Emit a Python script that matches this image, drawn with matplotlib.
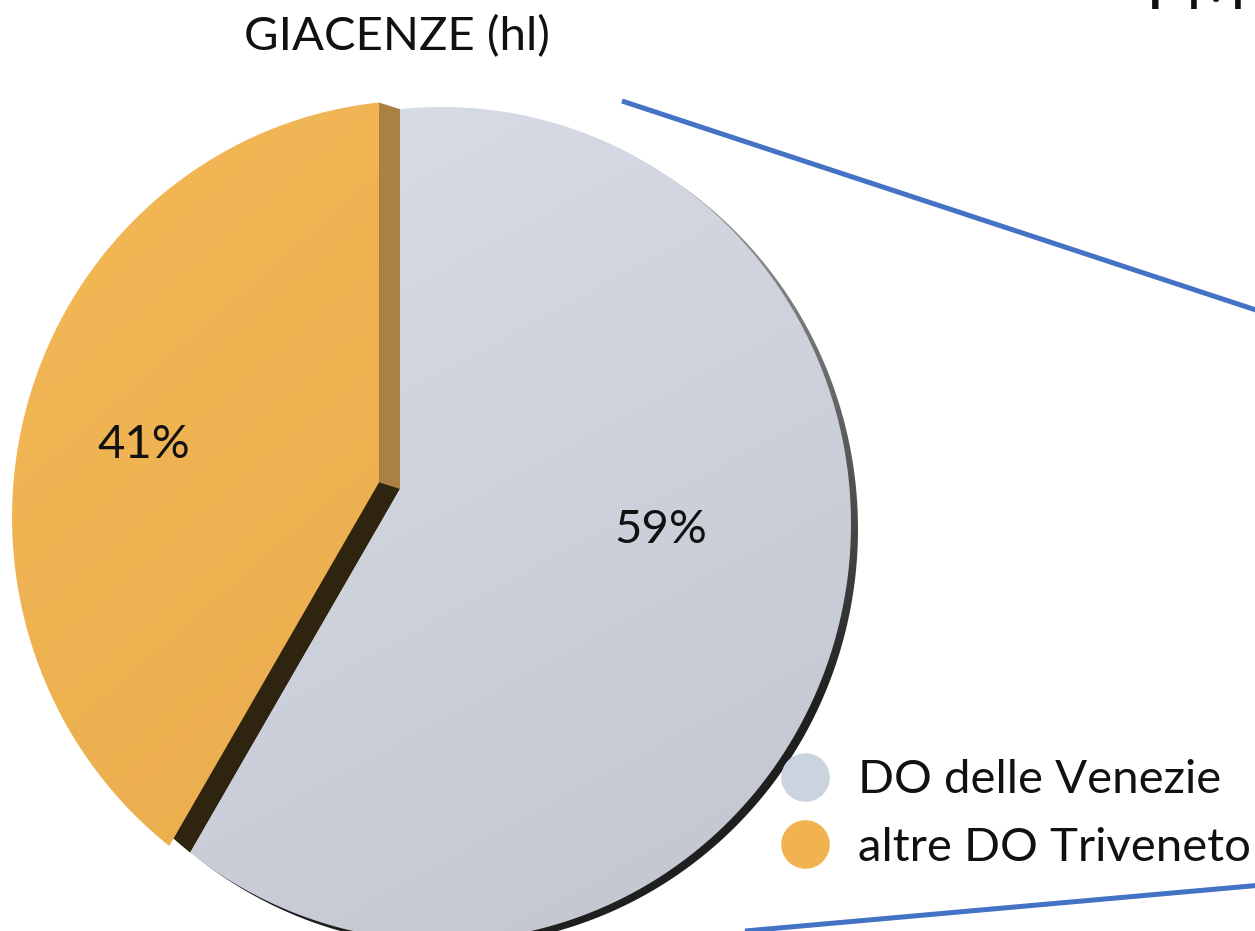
import numpy as np
import matplotlib
matplotlib.use("Agg")
import matplotlib.pyplot as plt
import matplotlib.colors as mcolors
from matplotlib.patches import Polygon
from matplotlib.lines import Line2D

# -------------------------
# Data
# -------------------------
categories = ["DO delle Venezie", "altre DO Triveneto"]
shares = [59, 41]
pct_labels = ["59%", "41%"]
title = "GIACENZE (hl)"

# colours (flat for legend, top/bottom for the shaded slices)
legend_colors = ["#cbd3df", "#f0b350"]
top_colors = ["#d8dde8", "#f3b857"]
bottom_colors = ["#c1c5ce", "#ebad4d"]
side_colors = ["#1f1f1f", "#2e2410"]
rim_top_color = "#a8a8a8"
face_color = "#a98142"

plt.rcParams['font.family'] = ['Lato', 'DejaVu Sans']

W, H = 1255, 931
fig = plt.figure(figsize=(W / 100, H / 100), dpi=100)
ax = fig.add_axes([0, 0, 1, 1])

# -------------------------
# Pie geometry (pixel space, y down)
# -------------------------
apex = np.array([400.0, 489.0])
ell_c = np.array([442.0, 524.0])
rx, ry = 409.0, 417.0
tilt = 1.1            # vertical stretch of slice directions (3D look)
explode_px = [0, 22]
label_frac = [0.58, 0.66]
label_rot = -8


def unit(phi):
    phi = np.radians(phi)
    v = np.array([np.sin(phi), -np.cos(phi) * tilt])
    return v / np.hypot(*v)


def rim(phi):
    # phi in degrees, clockwise from 12 o'clock
    phi = np.radians(np.atleast_1d(phi))
    dx, dy = np.sin(phi), -np.cos(phi) * tilt
    px, py = apex - ell_c
    a = (dx / rx) ** 2 + (dy / ry) ** 2
    b = 2 * (px * dx / rx ** 2 + py * dy / ry ** 2)
    c = (px / rx) ** 2 + (py / ry) ** 2 - 1
    t = (-b + np.sqrt(b * b - 4 * a * c)) / (2 * a)
    return np.column_stack([apex[0] + t * dx, apex[1] + t * dy])


def gradient_fill(verts, c_top, c_bot, z, wx=0.3, wy=0.7):
    poly = Polygon(verts, closed=True, facecolor='none', edgecolor='none', zorder=z)
    ax.add_patch(poly)
    x0, y0 = verts.min(0)
    x1, y1 = verts.max(0)
    n = 256
    yy, xx = np.mgrid[0:1:n * 1j, 0:1:n * 1j]
    s = np.clip(wx * xx + wy * yy, 0, 1)
    ct = np.array(mcolors.to_rgb(c_top))
    cb = np.array(mcolors.to_rgb(c_bot))
    img = ct + (cb - ct) * s[..., None]
    im = ax.imshow(img, extent=(x0, x1, y1, y0), origin='upper', zorder=z,
                   aspect='auto', interpolation='bilinear')
    im.set_clip_path(poly)


bounds = np.concatenate([[0], np.cumsum(shares)]) / sum(shares) * 360

for i in range(len(shares)):
    th1, th2 = bounds[i], bounds[i + 1]
    mid = (th1 + th2) / 2
    off = explode_px[i] * unit(mid)
    arc = rim(np.linspace(th1, th2, 300))
    base = np.vstack([apex, arc])

    if explode_px[i] == 0:
        # rim: light grey outline at the top, dark side further down
        gradient_fill(base + np.array([7, 5]), rim_top_color, side_colors[i], 1,
                      wx=0.0, wy=1.4)
    else:
        # extruded sides of the pulled-out slice
        ax.add_patch(Polygon(base, closed=True, facecolor=side_colors[i],
                             edgecolor='none', zorder=2))
        top_edge = rim(th2)[0]
        ax.add_patch(Polygon([apex, top_edge, top_edge + off, apex + off], closed=True,
                             facecolor=face_color, edgecolor='none', zorder=3))

    gradient_fill(base + off, top_colors[i], bottom_colors[i], 4 + i)

    lab_pos = apex + off + label_frac[i] * (rim(mid + label_rot)[0] - apex)
    ax.text(lab_pos[0], lab_pos[1], pct_labels[i], fontsize=34, color='#111111',
            ha='center', va='center', zorder=10)

# -------------------------
# Title, legend, connector lines
# -------------------------
ax.text(397, 50, title, fontsize=34, color='#111111', ha='center', va='baseline', zorder=10)
ax.text(1146, 9, "PM", fontsize=48, color='#111111', ha='left', va='baseline', zorder=10)

connectors = [((622, 101), (1262, 312)), ((745, 931), (1262, 885))]
for (xa, ya), (xb, yb) in connectors:
    ax.plot([xa, xb], [ya, yb], color='#4472c4', lw=3.6, solid_capstyle='butt', zorder=6)

handles = [Line2D([], [], marker='o', ls='', markersize=35,
                  markerfacecolor=c, markeredgecolor='none') for c in legend_colors]
ax.legend(handles, categories, loc='center left', bbox_to_anchor=(781 / W, 1 - 814 / H),
          frameon=False, fontsize=34, handlelength=1.0, handletextpad=0.62,
          labelspacing=0.53, borderpad=0, borderaxespad=0, labelcolor='#111111')

ax.set_xlim(0, W)
ax.set_ylim(H, 0)
ax.axis('off')

fig.savefig("out.png", dpi=100)
